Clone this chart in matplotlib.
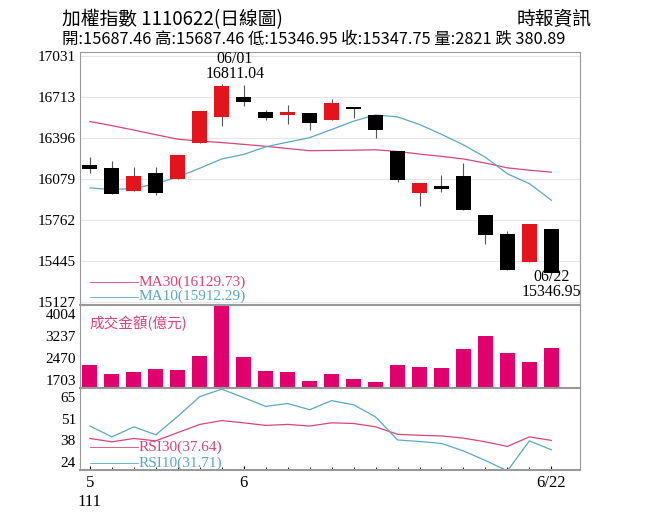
import matplotlib.pyplot as plt
import numpy as np

plt.rcParams['font.family'] = ['Liberation Serif', 'Noto Sans CJK TC', 'DejaVu Sans']

opens  = [16188,16163,15987,16122,16077,16359,16558,16711,16599,16570,16588,16535,16634,16573,16290,15972,16023,16097,15794,15651,15430,15687]
closes = [16155,15962,16099,15970,16262,16604,16800,16670,16548,16596,16509,16662,16616,16456,16069,16046,16003,15837,15641,15371,15728,15348]
highs  = [16244,16214,16168,16173,16262,16604,16811,16805,16609,16647,16588,16696,16634,16573,16290,16046,16105,16199,15794,15672,15728,15687]
lows   = [16125,15960,15985,15952,16077,16359,16486,16640,16537,16502,16456,16535,16550,16395,16054,15870,15977,15837,15570,15371,15430,15347]
ma10 = [16008,15995,16003,16041,16092,16160,16232,16267,16326,16362,16397,16460,16525,16573,16558,16499,16423,16341,16245,16117,16041,15912]
ma30 = [16522,16490,16456,16420,16385,16370,16359,16345,16330,16313,16296,16298,16300,16303,16290,16270,16252,16232,16200,16163,16145,16130]
volume = [2239,1932,1989,2103,2068,2536,4303,2513,2023,2000,1681,1932,1749,1658,2216,2160,2137,2775,3220,2661,2319,2809]
rsi10 = [46.6,39.8,46.1,41.1,52.7,65,69.7,64.4,58.9,60.7,56.8,62.5,59.9,52.3,37.9,36.9,35.7,31,25,18.5,37.3,31.7]
rsi30 = [38.8,36.7,38.8,37.3,42.5,47.6,50,48.6,47,47.6,46.6,48.6,48.2,46.1,41.4,40.8,40.4,39,36.7,33.8,39.8,37.6]
price_ticks = [15127,15445,15762,16079,16396,16713,17031]
vol_ticks = [1703,2470,3237,4004]
rsi_ticks = [24,38,51,65]

RED = '#e3141b'; PINK = '#d94479'; BLUE = '#5aa7c9'; MAG = '#e0006e'
x = np.arange(len(opens))

fig = plt.figure(figsize=(6.56, 5.26), dpi=100)
L, W = 0.122, 0.762
ax1 = fig.add_axes([L, 0.42, W, 0.481])
ax2 = fig.add_axes([L, 0.262, W, 0.158], sharex=ax1)
ax3 = fig.add_axes([L, 0.106, W, 0.156], sharex=ax1)

for i in x:
    up = closes[i] >= opens[i]
    c = RED if up else 'black'
    ax1.vlines(i, lows[i], highs[i], color='#555555', lw=0.8, zorder=2)
    lo, hi = min(opens[i], closes[i]), max(opens[i], closes[i])
    ax1.bar(i, max(hi - lo, 12), bottom=lo, width=0.68, color=c, zorder=3)
ax1.plot(x, ma30, color=PINK, lw=0.9)
ax1.plot(x, ma10, color=BLUE, lw=0.9)
ax1.set_ylim(15100, 17060)
ax1.set_yticks(price_ticks)
for t in price_ticks:
    ax1.axhline(t, color='#e6e6e6', lw=0.8, zorder=0)
ax1.annotate('06/01\n16811.04', (6.6, 16830), ha='center', va='bottom', fontsize=11.5, linespacing=0.9)
ax1.text(21.0, 15140, '06/22\n15346.95', ha='center', va='bottom', fontsize=11.5, linespacing=0.9)
ax1.plot([0, 2.2], [15280, 15280], color=PINK, lw=0.6)
ax1.text(2.2, 15280, 'MA30(16129.73)', color=PINK, va='center', fontsize=11)
ax1.plot([0, 2.2], [15165, 15165], color=BLUE, lw=0.6)
ax1.text(2.2, 15165, 'MA10(15912.29)', color=BLUE, va='center', fontsize=11)

ax2.bar(x, volume, width=0.68, color=MAG)
ax2.set_ylim(1430, 4300)
ax2.set_yticks(vol_ticks)
ax2.text(0.0, 3950, '成交金額(億元)', color=PINK, va='top', fontsize=10.5,
         family=['Noto Sans CJK TC', 'DejaVu Sans'])

ax3.plot(x, rsi30, color=PINK, lw=0.9)
ax3.plot(x, rsi10, color=BLUE, lw=0.9)
ax3.set_ylim(18.9, 70.3)
ax3.set_yticks(rsi_ticks)
ax3.plot([0, 2.2], [33.5, 33.5], color=PINK, lw=0.6)
ax3.text(2.2, 33.5, 'RSI30(37.64)', color=PINK, va='center', fontsize=11)
ax3.plot([0, 2.2], [23.5, 23.5], color=BLUE, lw=0.6)
ax3.text(2.2, 23.5, 'RSI10(31.71)', color=BLUE, va='center', fontsize=11)

ax3.set_xlim(-0.45, 22.3)
ax3.set_xticks([0, 7, 21])
ax3.set_xticklabels(['5\n111', '6', '6/22'], fontsize=12)
ax3.set_xticks(x, minor=True)
ax3.tick_params(axis='x', which='minor', length=2, direction='in')
ax3.tick_params(axis='x', which='major', length=3, direction='in')

for ax in (ax1, ax2, ax3):
    ax.tick_params(axis='y', length=0, labelsize=11, pad=3)
    for s in ax.spines.values():
        s.set_color('#999999')
    ax.spines['bottom'].set_linewidth(1.5)
for ax in (ax1, ax2):
    plt.setp(ax.get_xticklabels(), visible=False)
    ax.tick_params(axis='x', length=0)

cjk = ['Noto Sans CJK TC', 'DejaVu Sans']
fig.text(0.095, 0.962, '加權指數 1110622(日線圖)', fontsize=13.5, family=cjk, va='center')
fig.text(0.845, 0.962, '時報資訊', fontsize=13.5, family=cjk, va='center', ha='center')
fig.text(0.095, 0.925, '開:15687.46 高:15687.46 低:15346.95 收:15347.75 量:2821 跌 380.89',
         fontsize=11.8, family=cjk, va='center')

fig.savefig('out.png', dpi=100)
